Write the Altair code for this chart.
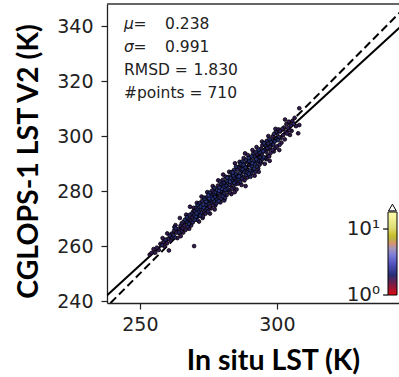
import altair as alt
import pandas as pd
import numpy as np

# ---- scatter data (in situ LST vs CGLOPS-1 LST V2) ----
insitu = [
    253.6, 254.3, 255.0, 255.6, 256.2, 256.9, 257.5, 258.1,
    258.6, 259.0, 259.4, 259.9, 260.3, 260.6, 260.9, 261.2, 261.6, 261.9, 258.3, 260.0,
    262.2, 262.5, 262.8, 263.1, 263.4, 263.7, 264.0, 264.3, 264.6, 264.8, 265.1, 265.3, 265.6, 265.8, 266.0, 263.0, 264.9, 262.6,
    266.3, 266.5, 266.7, 267.0, 267.2, 267.4, 267.7, 267.9, 268.1, 268.3, 268.5, 268.7, 268.9, 269.1, 269.3, 269.5, 269.8, 269.9, 270.0, 266.9, 268.0, 269.6,
    270.2, 270.4, 270.5, 270.7, 270.9, 271.1, 271.3, 271.5, 271.7, 271.9, 272.0, 272.2, 272.4, 272.6, 272.8, 273.0, 273.1, 273.3, 273.5, 273.7, 273.9, 274.0, 270.8, 271.6, 272.5, 273.4, 272.9, 271.0,
    274.2, 274.4, 274.5, 274.7, 274.9, 275.0, 275.2, 275.4, 275.5, 275.7, 275.9, 276.0, 276.2, 276.4, 276.5, 276.7, 276.9, 277.0, 277.2, 277.4, 277.5, 277.7, 277.9, 278.0, 274.6, 275.6, 276.6, 277.3, 274.3, 276.1, 277.8, 275.3,
    278.2, 278.3, 278.5, 278.7, 278.8, 279.0, 279.2, 279.3, 279.5, 279.7, 279.8, 280.0, 280.2, 280.3, 280.5, 280.7, 280.8, 281.0, 281.2, 281.3, 281.5, 281.7, 281.8, 282.0, 278.6, 279.4, 280.4, 281.1, 279.9, 280.6, 281.6, 278.9, 281.9, 280.1,
    282.2, 282.3, 282.5, 282.7, 282.8, 283.0, 283.2, 283.3, 283.5, 283.7, 283.8, 284.0, 284.2, 284.3, 284.5, 284.7, 284.8, 285.0, 285.2, 285.3, 285.5, 285.7, 285.8, 286.0, 282.6, 283.4, 284.1, 285.1, 284.6, 282.9, 283.9, 285.9, 285.4, 284.4,
    286.2, 286.3, 286.5, 286.7, 286.8, 287.0, 287.2, 287.3, 287.5, 287.7, 287.8, 288.0, 288.2, 288.4, 288.5, 288.7, 288.8, 289.0, 289.2, 289.3, 289.5, 289.7, 289.8, 290.0, 286.4, 287.1, 287.9, 288.6, 289.4, 286.9, 288.1, 289.1, 287.6, 289.9,
    290.2, 290.3, 290.5, 290.7, 290.8, 291.0, 291.2, 291.3, 291.5, 291.7, 291.8, 292.0, 292.2, 292.3, 292.5, 292.7, 292.8, 293.0, 293.2, 293.3, 293.5, 293.7, 293.8, 294.0, 290.4, 291.1, 291.9, 292.6, 293.4, 290.9, 292.4, 293.9,
    294.2, 294.3, 294.5, 294.7, 294.8, 295.0, 295.2, 295.3, 295.5, 295.7, 295.8, 296.0, 296.2, 296.3, 296.5, 296.7, 296.8, 297.0, 297.2, 297.3, 297.5, 297.7, 297.8, 298.0, 294.6, 295.6, 296.9, 297.4,
    298.2, 298.4, 298.5, 298.7, 298.9, 299.0, 299.2, 299.4, 299.6, 299.8, 300.0, 300.2, 300.4, 300.6, 300.8, 301.0, 301.2, 301.4, 301.7, 302.0, 299.5, 300.9,
    302.3, 302.6, 302.9, 303.2, 303.5, 303.8, 304.1, 304.4, 304.8, 305.1, 305.4, 305.7, 303.0, 304.6,
    306.1, 306.5, 307.0, 307.8, 308.2, 308.2,
]
cglops = [
    256.9, 257.5, 258.9, 257.6, 259.4, 258.6, 260.8, 260.3,
    261.5, 259.9, 262.3, 261.0, 262.6, 258.4, 263.8, 262.0, 264.5, 263.1, 262.9, 264.6,
    264.0, 265.6, 263.2, 266.4, 264.9, 262.9, 266.1, 265.0, 270.2, 267.3, 265.4, 268.3, 266.6, 264.9, 268.9, 267.6, 263.6, 266.9,
    267.4, 269.6, 265.9, 268.8, 270.5, 267.1, 269.9, 268.1, 271.3, 274.3, 269.2, 267.5, 271.8, 270.4, 268.6, 272.6, 260.0, 271.2, 269.5, 271.4, 266.3, 273.9,
    272.6, 270.7, 273.9, 271.9, 269.6, 274.8, 272.4, 270.9, 275.6, 273.3, 271.1, 274.4, 272.0, 276.3, 273.6, 270.8, 275.1, 274.0, 272.3, 276.9, 274.9, 271.8, 275.7, 268.9, 278.0, 277.6, 270.2, 273.2,
    276.1, 273.5, 277.8, 275.3, 272.6, 278.4, 276.5, 274.2, 279.4, 276.9, 273.7, 277.9, 275.6, 280.2, 277.2, 274.8, 278.9, 276.4, 281.1, 277.9, 274.7, 279.6, 277.1, 275.6, 279.6, 271.8, 281.8, 273.3, 275.0, 278.6, 280.6, 277.3,
    280.4, 277.5, 282.0, 279.4, 276.3, 281.2, 278.6, 283.4, 280.0, 277.2, 282.3, 280.8, 278.1, 284.1, 281.4, 279.0, 276.6, 282.9, 280.5, 285.2, 281.9, 278.6, 283.6, 280.9, 283.9, 275.9, 286.0, 277.5, 281.5, 283.0, 280.2, 280.1, 284.8, 279.6,
    283.6, 280.4, 285.2, 282.3, 279.6, 284.6, 282.0, 286.8, 283.9, 280.8, 285.9, 283.3, 281.1, 287.6, 284.8, 290.1, 282.4, 286.3, 283.9, 280.6, 287.8, 285.2, 282.7, 288.4, 287.0, 278.9, 285.6, 288.9, 279.6, 283.4, 286.7, 284.3, 285.9, 283.0,
    285.3, 288.9, 286.5, 283.4, 289.8, 287.2, 284.6, 290.7, 287.9, 285.1, 289.5, 287.0, 283.9, 293.7, 288.6, 285.8, 291.3, 288.1, 284.9, 290.6, 287.6, 292.0, 286.3, 289.4, 290.6, 282.2, 292.0, 281.8, 293.1, 285.9, 289.9, 286.8, 288.6, 290.9,
    287.5, 291.8, 289.3, 286.4, 292.6, 290.1, 287.6, 293.5, 290.9, 288.1, 292.4, 289.8, 287.0, 294.2, 291.6, 288.9, 293.4, 291.0, 288.2, 295.0, 292.3, 289.6, 294.1, 292.2, 285.2, 294.9, 285.6, 296.0, 287.0, 289.0, 290.6, 290.9,
    295.4, 290.4, 293.6, 296.6, 291.7, 294.5, 292.3, 297.4, 294.9, 292.0, 296.7, 294.3, 291.6, 298.2, 295.6, 293.0, 297.3, 295.2, 292.6, 298.9, 296.0, 293.8, 297.9, 296.6, 298.0, 289.9, 300.0, 291.0,
    298.4, 294.9, 299.9, 297.0, 294.4, 300.8, 298.0, 295.6, 301.4, 298.9, 296.2, 300.9, 298.5, 302.4, 299.6, 296.8, 301.8, 299.3, 297.6, 302.6, 302.6, 294.9,
    300.3, 303.1, 298.8, 301.6, 304.4, 300.9, 303.0, 305.2, 300.4, 303.8, 301.9, 305.5, 306.0, 302.1,
    304.4, 306.6, 303.6, 301.0, 310.1, 304.0,
]

# ---- reference lines ----
line_x = [230.0, 360.0]
one_to_one_y = [230.0, 360.0]
fit_y = [234.8, 353.3]

# ---- statistics text ----
sym_text = ["μ", "σ"]
sym_x = [244.2, 244.2]
sym_y = [340.7, 332.4]
ann_text = ["=", "0.238", "=", "0.991", "RMSD =", "1.830", "#points = 710"]
ann_x = [247.7, 259.2, 247.7, 259.2, 244.2, 269.6, 244.2]
ann_y = [340.7, 340.7, 332.4, 332.4, 324.0, 324.0, 315.6]

# ---- colour bar ----
cbar_values = [1.0, 1.26, 1.54, 1.88, 2.73, 3.63, 4.84, 6.45, 7.88, 11.45, 17.6]
cbar_colors = ["#dd0a10", "#a01030", "#3a1450", "#202a6a", "#4848b0", "#7070e6",
               "#9898b8", "#b4ac50", "#c8c024", "#eaea96", "#ffffff"]
cbar_label_text = ["10¹", "10⁰"]
cbar_label_x = [337.7, 337.7]
cbar_label_y = [266.2, 242.2]
cbar_tick_x = [338.8, 338.8]
cbar_tick_x2 = [340.6, 340.6]
cbar_arrow_x = [342.2]
cbar_arrow_y = [274.0]

x_domain = [238.0, 344.6]
y_domain = [239.3, 348.0]

# local point density (neighbour count) for colouring
xs = np.array(insitu)
ys = np.array(cglops)
d2 = (xs[:, None] - xs[None, :]) ** 2 + (ys[:, None] - ys[None, :]) ** 2
counts = (d2 < 1.3 ** 2).sum(axis=1)
density = np.clip(1.3 + counts * 0.12, 1.6, 3.4)
pts = pd.DataFrame({"insitu": insitu, "cglops": cglops, "density": density})
pts = pts.sort_values("density").reset_index(drop=True)

xs_scale = alt.Scale(domain=x_domain, nice=False, zero=False)
ys_scale = alt.Scale(domain=y_domain, nice=False, zero=False)

x_axis = alt.Axis(values=[250, 300], grid=False, title="In situ LST (K)",
                  titleX=166, titleY=57, titleBaseline="middle", titleAlign="center")
y_axis = alt.Axis(values=[240, 260, 280, 300, 320, 340], grid=False,
                  title="CGLOPS-1 LST V2 (K)", titleAngle=270, titleX=-79, titleY=157,
                  titleBaseline="middle", titleAlign="center")

color_scale = alt.Scale(type="log", domain=cbar_values, range=cbar_colors)

points = alt.Chart(pts).mark_circle(size=14, opacity=1, stroke="black", strokeWidth=0.8).encode(
    x=alt.X("insitu:Q", scale=xs_scale, axis=x_axis),
    y=alt.Y("cglops:Q", scale=ys_scale, axis=y_axis),
    color=alt.Color("density:Q", scale=color_scale,
                    legend=alt.Legend(orient="none", legendX=281, legendY=208,
                                      direction="vertical", gradientLength=83,
                                      gradientThickness=9, gradientStrokeColor="black",
                                      gradientStrokeWidth=1, title=None, values=[1, 10],
                                      labelExpr="''", padding=0)),
)

lines_df = pd.DataFrame({"x": line_x, "one": one_to_one_y, "fit": fit_y})
one_line = alt.Chart(lines_df).mark_line(color="black", strokeWidth=2, strokeDash=[8, 4], clip=True).encode(
    x=alt.X("x:Q", scale=xs_scale), y=alt.Y("one:Q", scale=ys_scale))
fit_line = alt.Chart(lines_df).mark_line(color="black", strokeWidth=2, clip=True).encode(
    x=alt.X("x:Q", scale=xs_scale), y=alt.Y("fit:Q", scale=ys_scale))

sym_df = pd.DataFrame({"x": sym_x, "y": sym_y, "t": sym_text})
syms = alt.Chart(sym_df).mark_text(align="left", baseline="middle", font="DejaVu Sans",
                                   fontStyle="italic", fontSize=15.5, color="#222").encode(
    x="x:Q", y="y:Q", text="t:N")
ann_df = pd.DataFrame({"x": ann_x, "y": ann_y, "t": ann_text})
anns = alt.Chart(ann_df).mark_text(align="left", baseline="middle", font="DejaVu Sans",
                                   fontSize=15.5, color="#222").encode(
    x="x:Q", y="y:Q", text="t:N")

cbl_df = pd.DataFrame({"x": cbar_label_x, "y": cbar_label_y, "t": cbar_label_text,
                       "tx": cbar_tick_x, "tx2": cbar_tick_x2})
cb_labels = alt.Chart(cbl_df).mark_text(align="right", baseline="middle", font="DejaVu Sans",
                                        fontSize=20, color="#222").encode(
    x="x:Q", y="y:Q", text="t:N")
cb_ticks = alt.Chart(cbl_df).mark_rule(color="black", strokeWidth=1.2).encode(
    x="tx:Q", x2="tx2:Q", y="y:Q")
arrow_df = pd.DataFrame({"x": cbar_arrow_x, "y": cbar_arrow_y})
cb_arrow = alt.Chart(arrow_df).mark_point(shape="triangle-up", size=60, filled=True,
                                          fill="white", stroke="black", strokeWidth=1,
                                          opacity=1).encode(x="x:Q", y="y:Q")

top_rule = alt.Chart(arrow_df).mark_rule(color="#333", strokeWidth=1.5).encode(y=alt.value(0))

chart = alt.layer(
    fit_line, one_line, points, syms, anns, cb_arrow, cb_labels, cb_ticks, top_rule
).properties(
    width=292, height=299,
    autosize=alt.AutoSizeParams(type="none"),
    padding={"left": 107, "top": 4, "right": 0, "bottom": 74},
).configure_view(stroke=None).configure_axis(
    labelFont="DejaVu Sans", labelFontSize=19, labelColor="#222",
    tickColor="#222", domainColor="#222", tickSize=6, tickWidth=1.2, domainWidth=1.3,
    labelPadding=6, titleFont="Lato", titleFontWeight="bold", titleFontSize=28.5,
    titleColor="black",
).configure_axisY(labelPadding=8)

chart.save("out.html", embed_options={"renderer": "svg", "actions": False})
